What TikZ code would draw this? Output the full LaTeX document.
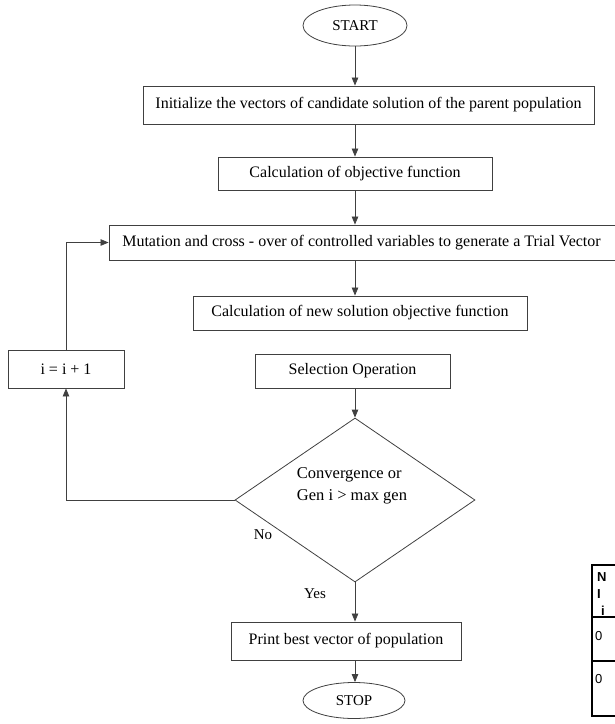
\documentclass[tikz,border=0pt]{standalone}
\usepackage{fontspec}
\setmainfont{Liberation Serif}
\newfontfamily\tabfont{Liberation Sans}
\usetikzlibrary{shapes.geometric,arrows.meta}
\begin{document}
\begin{tikzpicture}[x=1pt,y=-1pt,
  box/.style={draw=black!75, line width=0.9pt, rectangle, inner sep=0pt, font=\fontsize{16}{19}\selectfont},
  term/.style={draw=black!75, line width=0.8pt, ellipse, inner sep=0pt, font=\fontsize{15}{18}\selectfont},
  arr/.style={draw=black!75, line width=0.8pt, -{Triangle[length=8pt,width=6.5pt]}},
  lbl/.style={font=\fontsize{15}{18}\selectfont, inner sep=0pt},
  tline/.style={draw=black, line width=1.3pt},
  ttext/.style={font=\tabfont\fontsize{13}{16}\selectfont, inner sep=0pt, anchor=west}]
\useasboundingbox (0,0) rectangle (615,724);
% nodes
\node[term, minimum width=104pt, minimum height=41pt] (start) at (355,25.5) {START};
\node[box, minimum width=451pt, minimum height=38pt] (init) at (368.5,105) {Initialize the vectors of candidate solution of the parent population};
\node[box, minimum width=274pt, minimum height=33pt] (obj) at (355,173.5) {Calculation of objective function};
\node[box, minimum width=511pt, minimum height=35pt] (mut) at (364.5,242.5) {\hspace*{-6pt}Mutation and cross - over of controlled variables to generate a Trial Vector};
\node[box, minimum width=334pt, minimum height=34pt] (newobj) at (360,313) {Calculation of new solution objective function};
\node[box, minimum width=195pt, minimum height=34pt] (sel) at (352.5,371) {Selection Operation};
\node[box, minimum width=116pt, minimum height=38pt] (inc) at (66,369) {i = i + 1};
\node[draw=black!75, line width=0.8pt, diamond, minimum width=240pt, minimum height=164pt, inner sep=0pt] (dec) at (355,500) {};
\node[lbl, font=\fontsize{16.5}{22}\selectfont, align=left] (dectext) at (352,486) {Convergence or\\Gen i > max gen};
\node[box, minimum width=230pt, minimum height=38pt] (print) at (346,641) {Print best vector of population};
\node[term, minimum width=102pt, minimum height=36pt] (stop) at (354,700.5) {STOP};
\node[lbl] (no) at (263,535) {No};
\node[lbl] (yes) at (315,594) {Yes};
% connectors
\draw[arr] (start.south) -- (start.south |- init.north);
\draw[arr] (obj.north |- init.south) -- (obj.north);
\draw[arr] (obj.south) -- (obj.south |- mut.north);
\draw[arr] (obj.south |- mut.south) -- (obj.south |- newobj.north);
\draw[arr] (dec.north |- sel.south) -- (dec.north);
\draw[arr] (dec.south) -- (dec.south |- print.north);
\draw[arr] (dec.south |- print.south) -- (dec.south |- stop.north);
\draw[arr] (dec.west) -| (inc.south);
\draw[arr] (inc.north) |- (mut.west);
% partial table at right edge
\coordinate (ttl) at (592,565);
\coordinate (tbr) at (630,716);
\draw[tline] (ttl) rectangle (tbr);
\draw[tline] (592,617) -- (630,617);
\draw[tline] (592,661) -- (630,661);
\node[ttext, font=\tabfont\bfseries\fontsize{13}{16}\selectfont] (tn) at (597,577) {N};
\node[ttext, font=\tabfont\bfseries\fontsize{13}{16}\selectfont] (ti) at (597,594) {I};
\node[ttext, font=\tabfont\bfseries\fontsize{13}{16}\selectfont] (tii) at (601,611) {i};
\node[ttext] (tz1) at (595,636) {0};
\node[ttext] (tz2) at (595,679) {0};
\end{tikzpicture}
\end{document}
